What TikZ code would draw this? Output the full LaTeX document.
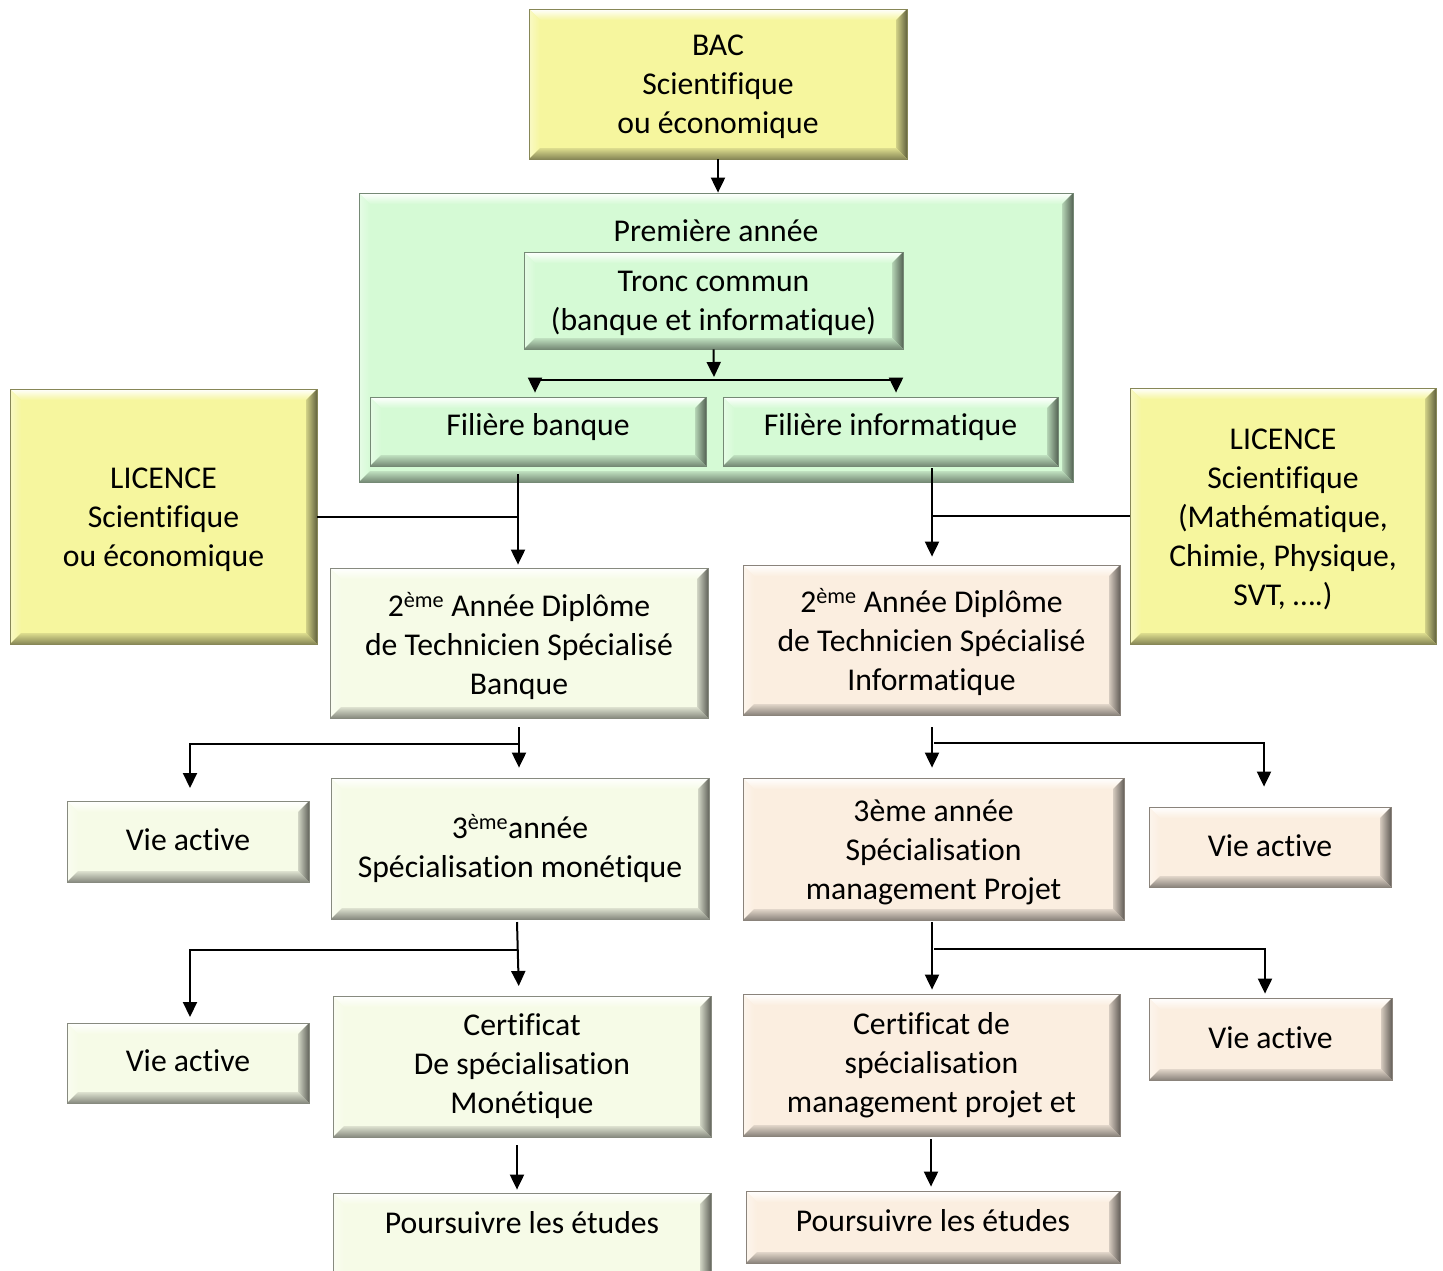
\documentclass[tikz,border=0pt]{standalone}
\usepackage{fontspec}
\setmainfont{Carlito}[Ligatures=NoCommon]
\usetikzlibrary{arrows.meta}
\definecolor{cyel}{HTML}{F6F69E}
\definecolor{cgrn}{HTML}{D5FAD5}
\definecolor{clgr}{HTML}{F6FBE7}
\definecolor{cpch}{HTML}{FBEEE0}
\newcommand\fs{\fontsize{31.7}{39}\selectfont}
\newcommand\tup[1]{\rule{0pt}{#1pt}}
\def\bw{11pt}
\tikzset{
  bevbox/.style={draw=#1!55!black, line width=0.8pt, fill=#1, inner sep=0pt,
    align=center, font=\fs,
    path picture={
      \path (path picture bounding box.north west) coordinate (bvnw)
            (path picture bounding box.north east) coordinate (bvne)
            (path picture bounding box.south west) coordinate (bvsw)
            (path picture bounding box.south east) coordinate (bvse);
      \shade[top color=white, bottom color=#1]
        (bvnw) -- (bvne) -- ([shift={(-\bw,-\bw)}]bvne) -- ([shift={(\bw,-\bw)}]bvnw) -- cycle;
      \shade[left color=white!40!#1, right color=#1]
        (bvnw) -- ([shift={(\bw,-\bw)}]bvnw) -- ([shift={(\bw,\bw)}]bvsw) -- (bvsw) -- cycle;
      \shade[left color=#1!85!black, right color=#1!40!black]
        (bvne) -- (bvse) -- ([shift={(-\bw,\bw)}]bvse) -- ([shift={(-\bw,-\bw)}]bvne) -- cycle;
      \shade[top color=#1!90!black, bottom color=#1!55!black]
        (bvsw) -- (bvse) -- ([shift={(-\bw,\bw)}]bvse) -- ([shift={(\bw,\bw)}]bvsw) -- cycle;
    }},
  arr/.style={line width=2pt, -{Triangle[width=14pt,length=15pt]}},
  ln/.style={line width=2pt},
  txt/.style={font=\fs, inner sep=0pt},
}
\begin{document}
\begin{tikzpicture}[x=1pt,y=-1pt]
\clip (0,0) rectangle (1443,1270);
\fill[white] (0,0) rectangle (1443,1270);

% boxes
\node[bevbox=cyel, minimum width=378pt, minimum height=150pt] (bac) at (718,84) {\tup{27}BAC\\Scientifique\\ou économique};
\node[bevbox=cgrn, minimum width=714pt, minimum height=289pt] (green) at (716,337.5) {};
\node[txt] (prem) at (716,231) {Première année};
\node[bevbox=cgrn, minimum width=379pt, minimum height=97pt] (tronc) at (713.5,300.5) {\tup{27}Tronc commun\\(banque et informatique)};
\node[bevbox=cgrn, minimum width=336pt, minimum height=69pt, text depth=14pt] (fb) at (538,431.5) {Filière banque};
\node[bevbox=cgrn, minimum width=335pt, minimum height=69pt, text depth=14pt] (fi) at (890.5,431.5) {Filière informatique};
\node[bevbox=cyel, minimum width=307pt, minimum height=255pt] (licl) at (163.5,516.5) {\tup{28}LICENCE\\Scientifique\\ou économique};
\node[bevbox=cyel, minimum width=306pt, minimum height=256pt] (licr) at (1283,516) {\tup{27}LICENCE\\Scientifique\\(Mathématique,\\Chimie, Physique,\\SVT, ….)};
\node[bevbox=clgr, minimum width=378pt, minimum height=150pt] (d2b) at (519,643) {\tup{30}2\textsuperscript{ème} Année Diplôme\\de Technicien Spécialisé\\Banque};
\node[bevbox=cpch, minimum width=377pt, minimum height=150pt] (d2i) at (931.5,640) {\tup{29}2\textsuperscript{ème} Année Diplôme\\de Technicien Spécialisé\\Informatique};
\node[bevbox=clgr, minimum width=242pt, minimum height=81pt, text depth=4pt] (va1) at (188,841.5) {Vie active};
\node[bevbox=clgr, minimum width=378pt, minimum height=141pt] (b3) at (520,848.5) {3\textsuperscript{ème}année\\Spécialisation monétique};
\node[bevbox=cpch, minimum width=381pt, minimum height=142pt] (i3) at (933.5,849) {\tup{28}3ème année\\Spécialisation\\management Projet};
\node[bevbox=cpch, minimum width=242pt, minimum height=80pt, text depth=2pt] (vr1) at (1270,847) {Vie active};
\node[bevbox=clgr, minimum width=242pt, minimum height=80pt, text depth=5pt] (va2) at (188,1063) {Vie active};
\node[bevbox=clgr, minimum width=378pt, minimum height=141pt] (bc) at (522,1066.5) {Certificat\\De spécialisation\\Monétique};
\node[bevbox=cpch, minimum width=377pt, minimum height=142pt] (ic) at (931.5,1065) {Certificat de\\spécialisation\\management projet et};
\node[bevbox=cpch, minimum width=243pt, minimum height=82pt, text depth=3pt] (vr2) at (1270.5,1039) {Vie active};
\node[bevbox=clgr, minimum width=378pt, minimum height=92pt, text depth=33pt] (pb) at (522,1239) {Poursuivre les études};
\node[bevbox=cpch, minimum width=374pt, minimum height=72pt, text depth=14pt] (pi) at (933,1227) {Poursuivre les études};

% connector points
\coordinate (tsp) at (714,377);
\coordinate (sl) at (535,380);
\coordinate (sr) at (896,380);
\coordinate (fbo) at (518,474);
\coordinate (fio) at (932,468);
\coordinate (b2o) at (519,727);
\coordinate (b2j) at (519,744);
\coordinate (i2o) at (932,727);
\coordinate (i2j) at (934,743);
\coordinate (i2k) at (1264,743);
\coordinate (b3o) at (517,922);
\coordinate (b3j) at (518,950);
\coordinate (i3o) at (932,922);
\coordinate (i3j) at (934,949);
\coordinate (i3k) at (1265,949);
\coordinate (bco) at (517,1145);
\coordinate (ico) at (931,1139);

% connectors
\draw[arr] (bac.south) -- (bac.south |- green.north);
\draw[arr] (tronc.south) -- (tsp);
\draw[ln] (sl) -- (sr);
\draw[arr, shorten >=4pt] (sl) -- (sl |- fb.north);
\draw[arr, shorten >=4pt] (sr) -- (sr |- fi.north);
\draw[arr, shorten >=3pt] (fbo) -- (fbo |- d2b.north);
\draw[ln] (licl.east) -- (licl.east -| fbo);
\draw[arr, shorten >=8pt] (fio) -- (fio |- d2i.north);
\draw[ln] (licr.west) -- (licr.west -| fio);
\draw[arr, shorten >=10pt] (b2o) -- (b2o |- b3.north);
\draw[arr, shorten >=13pt] (b2j) -- (190,744) -- (190,801);
\draw[arr, shorten >=10pt] (i2o) -- (i2o |- i3.north);
\draw[arr, shorten >=20pt] (i2j) -- (i2k) -- (i2k |- vr1.north);
\draw[arr, shorten >=10pt] (b3o) -- (519,996);
\draw[arr, shorten >=6pt] (b3j) -- (190,950) -- (190,1023);
\draw[arr, shorten >=4pt] (i3o) -- (i3o |- ic.north);
\draw[arr, shorten >=4pt] (i3j) -- (i3k) -- (i3k |- vr2.north);
\draw[arr, shorten >=3pt] (bco) -- (bco |- pb.north);
\draw[arr, shorten >=4pt] (ico) -- (ico |- pi.north);
\end{tikzpicture}
\end{document}
